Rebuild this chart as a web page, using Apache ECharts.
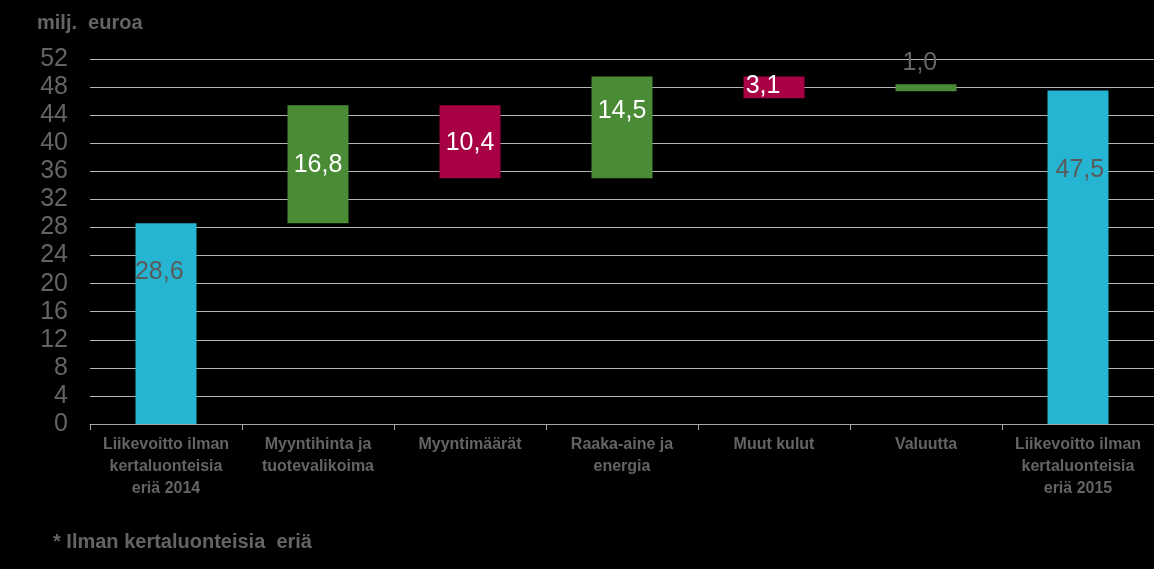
<!DOCTYPE html>
<html>
<head>
<meta charset="utf-8">
<script src="https://cdn.jsdelivr.net/npm/echarts@6/dist/echarts.min.js"></script>
<style>
html,body{margin:0;padding:0;background:#000;}
#c{width:1154px;height:569px;}
</style>
</head>
<body>
<div id="c"></div>
<script>
var categories = ['Liikevoitto ilman\nkertaluonteisia\neriä 2014', 'Myyntihinta ja\ntuotevalikoima', 'Myyntimäärät', 'Raaka-aine ja\nenergia', 'Muut kulut', 'Valuutta', 'Liikevoitto ilman\nkertaluonteisia\neriä 2015'];
var baseValues = [0, 28.6, 35.0, 35.0, 46.4, 47.4, 0];
var deltaValues = [28.6, 16.8, 10.4, 14.5, 3.1, 1.0, 47.5];
var barKinds = ['total', 'up', 'down', 'up', 'down', 'up', 'total'];
var yTicks = [0, 4, 8, 12, 16, 20, 24, 28, 32, 36, 40, 44, 48, 52];

var colors = { total: '#25B5D2', up: '#4A8C35', down: '#A80044' };
var labelColors = { total: '#5a5a5a', up: '#ffffff', down: '#ffffff' };
var labelPos = [['39%', '24.5%'], ['50%', '51%'], ['50%', '52%'], ['50%', '34%'], ['32%', '46%'], ['40%', -21], ['53%', '24%']];
var grey = '#646464';

var chart = echarts.init(document.getElementById('c'));
chart.setOption({
  backgroundColor: '#000000',
  animation: false,
  grid: { left: 90, right: 0, top: 59, bottom: 145 },
  xAxis: {
    type: 'category',
    data: categories,
    axisLine: { lineStyle: { color: '#a6a6a6', width: 1 } },
    axisTick: { show: true, length: 6, lineStyle: { color: '#a6a6a6' } },
    axisLabel: {
      interval: 0, color: grey, fontFamily: 'Liberation Sans, Arial, sans-serif',
      fontWeight: 'bold', fontSize: 16, lineHeight: 22, margin: 10
    }
  },
  yAxis: {
    type: 'value', min: 0, max: 52, interval: 4,
    axisLine: { show: false }, axisTick: { show: false },
    splitLine: { lineStyle: { color: '#b4b4b4', width: 1 } },
    axisLabel: {
      color: grey, fontFamily: 'Liberation Sans, Arial, sans-serif', fontSize: 25, margin: 22,
      formatter: function (v) { return yTicks.indexOf(v) >= 0 ? String(v) : ''; }
    }
  },
  series: [
    {
      type: 'bar', stack: 'w', barWidth: 61, silent: true,
      itemStyle: { color: 'transparent' },
      data: baseValues
    },
    {
      type: 'bar', stack: 'w', barWidth: 61,
      data: deltaValues.map(function (v, i) {
        var k = barKinds[i];
        return {
          value: v,
          itemStyle: { color: colors[k] },
          label: {
            show: true, position: labelPos[i], align: 'center', verticalAlign: 'middle',
            color: i === 5 ? grey : labelColors[k],
            fontFamily: 'Liberation Sans, Arial, sans-serif', fontSize: 25,
            formatter: function (p) { return p.value.toFixed(1).replace('.', ','); }
          }
        };
      })
    }
  ],
  graphic: [
    { type: 'text', left: 37, top: 13, style: { text: 'milj.  euroa', fill: grey, font: 'bold 20px "Liberation Sans", Arial, sans-serif' } },
    { type: 'text', left: 53, top: 532, style: { text: '* Ilman kertaluonteisia  eriä', fill: grey, font: 'bold 20px "Liberation Sans", Arial, sans-serif' } }
  ]
});
</script>
</body>
</html>
